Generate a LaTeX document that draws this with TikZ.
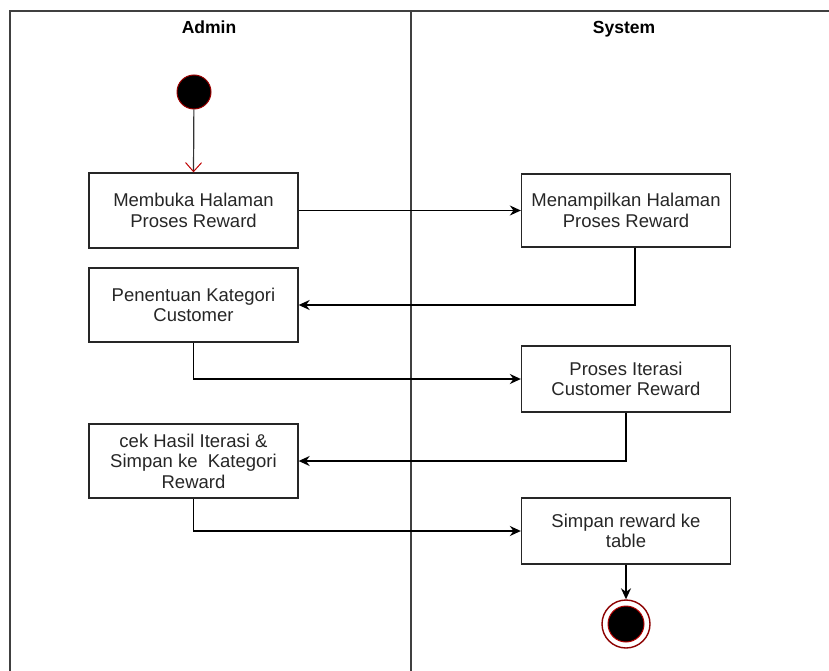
\documentclass[tikz,border=0pt]{standalone}
\usepackage{fontspec}
\setmainfont{Liberation Sans}
\usetikzlibrary{arrows.meta,positioning}
\tikzset{
  act/.style={draw=black!85, line width=1.3pt, rectangle, minimum width=209pt, inner sep=0pt,
    align=center, font=\fontsize{18.5}{20.5}\selectfont, text=black!85},
  lane/.style={draw=black!75, line width=1.6pt},
  arr/.style={draw=black, line width=1.5pt, -{Stealth[length=11pt,width=10pt]}},
  hdr/.style={font=\fontsize{17.5}{20}\selectfont\bfseries, anchor=base},
}
\begin{document}
\begin{tikzpicture}[x=1pt,y=-1pt]
\useasboundingbox (0,0) rectangle (829,671);
\draw[lane] (10,671) -- (10,11) -- (829,11);
\draw[lane] (411,11) -- (411,671);
\node[hdr] (hA) at (209,34) {Admin};
\node[hdr] (hS) at (624,34) {System};

\node[circle, fill=black, draw=red!60!black, line width=1pt, minimum size=34pt, inner sep=0pt] (start) at (194,92) {};

\node[act, minimum height=75pt] (b1) at (193.5,210.5) {Membuka Halaman\\Proses Reward};
\node[act, minimum height=73pt] (b2) at (626,210.5) {Menampilkan Halaman\\Proses Reward};
\node[act, minimum height=74pt] (b3) at (193.5,305) {Penentuan Kategori\\Customer};
\node[act, minimum height=66pt] (b4) at (626,379) {Proses Iterasi\\Customer Reward};
\node[act, minimum height=74pt] (b5) at (193.5,461) {cek Hasil Iterasi \&\\Simpan ke\ \ Kategori\\Reward};
\node[act, minimum height=66pt] (b6) at (626,531) {Simpan reward ke\\table};

\node[circle, draw=red!55!black, line width=1.4pt, minimum size=48pt, inner sep=0pt] (end) at (626,624) {};
\node[circle, fill=black, draw=red!70!black, line width=1pt, minimum size=36pt, inner sep=0pt] (endin) at (end.center) {};

\draw[black!80, line width=1.2pt, -{Straight Barb[length=9pt,width=16pt,line width=1pt,red!75!black]}] (start) -- (b1.north);
\draw[arr] (b1.east) -- (b2.west);
\draw[arr] ([xshift=9pt]b2.south) |- (b3.east);
\draw[arr] (b3.south) |- (b4.west);
\draw[arr] (b4.south) |- (b5.east);
\draw[arr] (b5.south) |- (b6.west);
\draw[arr] (b6.south) -- (end.north);
\end{tikzpicture}
\end{document}
